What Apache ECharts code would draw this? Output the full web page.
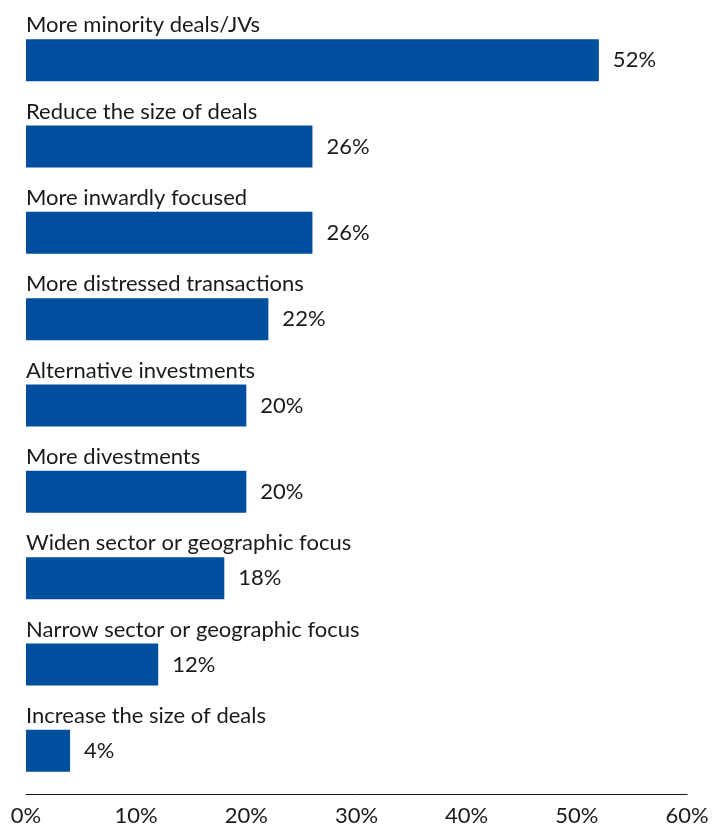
<!DOCTYPE html>
<html>
<head>
<meta charset="utf-8">
<style>html,body{margin:0;padding:0;background:#fff;}#c{width:712px;height:829px;}</style>
<script src="https://cdn.jsdelivr.net/npm/echarts@6/dist/echarts.min.js"></script>
</head>
<body>
<div id="c"></div>
<script>
const categories = [
  "More minority deals/JVs",
  "Reduce the size of deals",
  "More inwardly focused",
  "More distressed transactions",
  "Alternative investments",
  "More divestments",
  "Widen sector or geographic focus",
  "Narrow sector or geographic focus",
  "Increase the size of deals"
];
const values = [52, 26, 26, 22, 20, 20, 18, 12, 4];
const xTicks = [0, 10, 20, 30, 40, 50, 60];

const FONT = 'Lato';
const chart = echarts.init(document.getElementById('c'), null, {renderer: 'canvas'});
chart.setOption({
  animation: false,
  backgroundColor: '#ffffff',
  grid: {left: 26, right: 25, top: 17, bottom: 35, containLabel: false},
  xAxis: {
    type: 'value', min: xTicks[0], max: xTicks[xTicks.length - 1], interval: 10,
    axisLine: {show: true, lineStyle: {color: '#1a1a1a', width: 1}},
    axisTick: {show: false},
    splitLine: {show: false},
    axisLabel: {color: '#1a1a1a', fontSize: 22, fontFamily: FONT, margin: 11, formatter: v => v + '%'}
  },
  yAxis: {
    type: 'category', data: categories, inverse: true,
    axisLine: {show: false}, axisTick: {show: false},
    axisLabel: {
      inside: true, margin: 0, align: 'left', verticalAlign: 'bottom',
      padding: [0, 0, 24, 0],
      color: '#1a1a1a', fontSize: 22, fontFamily: FONT
    }
  },
  series: [{
    type: 'bar', data: values, barWidth: 42,
    itemStyle: {color: '#004e9e'},
    label: {show: true, position: 'right', distance: 14, color: '#1a1a1a', fontSize: 22, fontFamily: FONT, formatter: p => p.value + '%'}
  }]
});
</script>
</body>
</html>
